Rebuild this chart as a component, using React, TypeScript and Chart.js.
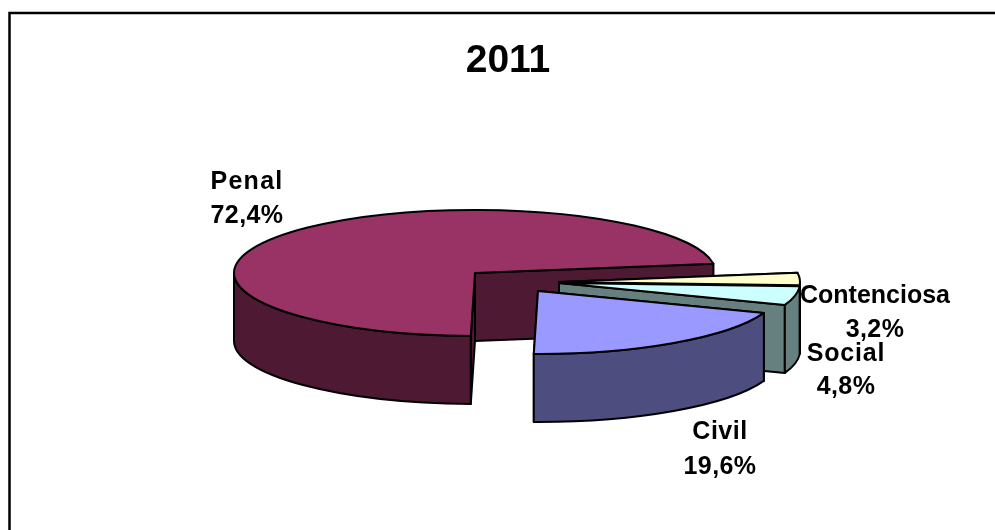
import React, { useEffect, useRef } from "react";
import { Chart, registerables } from "chart.js";

Chart.register(...registerables);

const title = "2011";
const categories = ["Penal", "Contenciosa", "Social", "Civil"];
const shares = [72.4, 3.2, 4.8, 19.6];
const topColors = ["#993366", "#FFFFCC", "#CCFFFF", "#9999FF"];
const sideColors = ["#4D1933", "#808066", "#668080", "#4D4D80"];

const RX = 241;
const RY = 63;
const DEPTH = 68;
const LINE = 2;
// Offset of each slice from the pie's centre (the explosion)
const sliceShiftX = [-33, 51, 51, 30];
const sliceShiftY = [0, 9, 10, 18];
// Centre x, name baseline, value baseline, letter spacing for each label
const labelX = [247, 875, 846, 720];
const labelNameY = [189, 303, 361, 439];
const labelValueY = [223, 337, 394, 474];
const labelSpacing = [1.3, 0, 0.8, 0.5];

const formatShare = (v: number) => v.toFixed(1).replace(".", ",") + "%";

const pie3d = {
  id: "pie3d",
  beforeDraw(chart: any) {
    const { ctx, width, height } = chart;
    ctx.save();
    ctx.fillStyle = "#fff";
    ctx.fillRect(0, 0, width, height);
    ctx.strokeStyle = "#000";
    ctx.lineWidth = 2.5;
    ctx.beginPath();
    ctx.moveTo(9.5, height);
    ctx.lineTo(9.5, 13);
    ctx.lineTo(width, 13);
    ctx.stroke();
    ctx.restore();
  },
  beforeDatasetDraw(chart: any) {
    const { ctx } = chart;
    const arcs = chart.getDatasetMeta(0).data;
    ctx.save();
    ctx.lineWidth = LINE;
    ctx.lineJoin = "round";
    ctx.strokeStyle = "#000";
    arcs.forEach((arc: any, i: number) => {
      const cx = arc.x + sliceShiftX[i];
      const cy = arc.y + sliceShiftY[i];
      const a0 = arc.startAngle;
      const a1 = arc.endAngle;
      const px = (a: number) => cx + RX * Math.cos(a);
      const py = (a: number) => cy + RY * Math.sin(a);
      ctx.fillStyle = sideColors[i];
      // Cut faces
      [a0, a1].forEach((a) => {
        ctx.beginPath();
        ctx.moveTo(cx, cy);
        ctx.lineTo(px(a), py(a));
        ctx.lineTo(px(a), py(a) + DEPTH);
        ctx.lineTo(cx, cy + DEPTH);
        ctx.closePath();
        ctx.fill();
        ctx.stroke();
      });
      // Outer wall: the part of the rim on the front half
      [0, 2 * Math.PI].forEach((k) => {
        const s = Math.max(a0, k);
        const e = Math.min(a1, k + Math.PI);
        if (e <= s) return;
        ctx.beginPath();
        ctx.ellipse(cx, cy, RX, RY, 0, s, e);
        ctx.lineTo(px(e), py(e) + DEPTH);
        ctx.ellipse(cx, cy + DEPTH, RX, RY, 0, e, s, true);
        ctx.closePath();
        ctx.fill();
        ctx.stroke();
      });
      // Top surface
      ctx.fillStyle = topColors[i];
      ctx.beginPath();
      ctx.moveTo(cx, cy);
      ctx.ellipse(cx, cy, RX, RY, 0, a0, a1);
      ctx.closePath();
      ctx.fill();
      ctx.stroke();
    });
    ctx.restore();
    return false;
  },
  afterDraw(chart: any) {
    const { ctx } = chart;
    ctx.save();
    ctx.fillStyle = "#000";
    ctx.textAlign = "center";
    ctx.textBaseline = "alphabetic";
    ctx.font = 'bold 25px "Liberation Sans", Arial, sans-serif';
    categories.forEach((name, i) => {
      (ctx as any).letterSpacing = labelSpacing[i] + "px";
      ctx.fillText(name, labelX[i], labelNameY[i]);
      (ctx as any).letterSpacing = "0.4px";
      ctx.fillText(formatShare(shares[i]), labelX[i], labelValueY[i]);
    });
    ctx.restore();
  },
};

export default function App() {
  const ref = useRef<HTMLCanvasElement>(null);
  useEffect(() => {
    const chart = new Chart(ref.current!, {
      type: "pie",
      data: {
        labels: categories,
        datasets: [{ data: shares, backgroundColor: topColors, borderColor: "#000" }],
      },
      options: {
        animation: false,
        responsive: false,
        rotation: 181,
        radius: RX,
        layout: { padding: { left: 21, bottom: 76 } },
        plugins: {
          legend: { display: false },
          tooltip: { enabled: false },
          title: {
            display: true,
            text: title,
            color: "#000",
            font: { family: '"Liberation Sans", Arial, sans-serif', size: 39, weight: "bold" },
            padding: { top: 38, bottom: 7 },
          },
        },
      },
      plugins: [pie3d],
    } as any);
    return () => chart.destroy();
  }, []);
  return (
    <canvas
      ref={ref}
      width={995}
      height={530}
      style={{ position: "absolute", left: 0, top: 0, display: "block" }}
    />
  );
}
